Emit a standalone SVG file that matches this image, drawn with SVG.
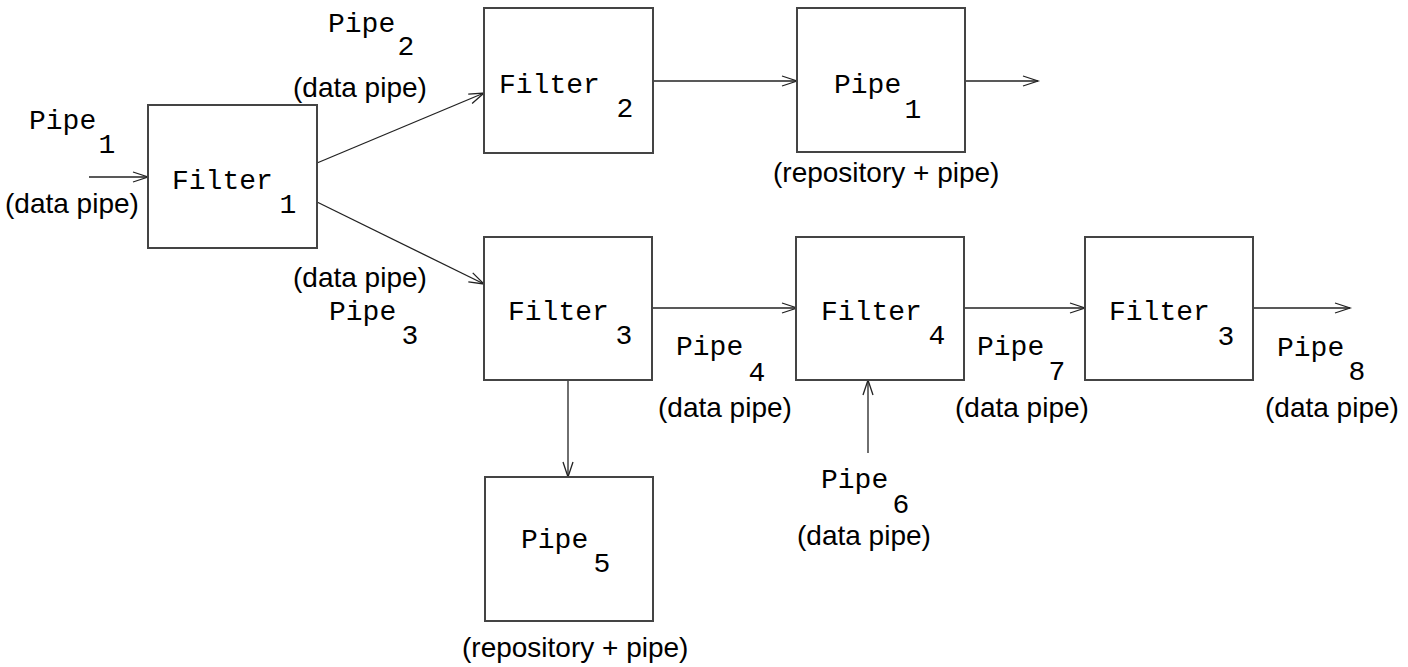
<svg xmlns="http://www.w3.org/2000/svg" width="1408" height="667" viewBox="0 0 1408 667">
<style>
.box{fill:#fff;stroke:#444;stroke-width:2}
.m{font-family:"Liberation Mono","DejaVu Sans Mono",monospace;font-size:28px;fill:#000}
.s{font-family:"Liberation Sans",Arial,sans-serif;font-size:28px;fill:#000}
.c{text-anchor:middle}
.con line{stroke:#222;stroke-width:1.3;marker-end:url(#a)}
</style>
<defs>
<marker id="a" markerUnits="userSpaceOnUse" markerWidth="20" markerHeight="14" refX="16" refY="7" orient="auto" viewBox="0 0 20 14">
<path d="M1,2 L16,7 L1,12" fill="none" stroke="#222" stroke-width="1.3"/>
</marker>
</defs>
<rect width="1408" height="667" fill="#fff"/>
<g id="connectors" class="con">
<line x1="89" y1="177" x2="148" y2="177"/>
<line x1="317" y1="163" x2="484" y2="93"/>
<line x1="317" y1="202" x2="484" y2="284"/>
<line x1="653" y1="81" x2="797" y2="81"/>
<line x1="965" y1="81" x2="1038" y2="81"/>
<line x1="653" y1="308" x2="797" y2="308"/>
<line x1="965" y1="308" x2="1085" y2="308"/>
<line x1="1253" y1="308" x2="1350" y2="308"/>
<line x1="568" y1="380" x2="568" y2="477"/>
<line x1="868" y1="453" x2="868" y2="380"/>
</g>
<g id="filter1">
<rect class="box" x="148" y="105" width="169" height="143"/>
<text class="m" x="172" y="189">Filter</text>
<text class="m c" x="288" y="213">1</text>
</g>
<g id="filter2">
<rect class="box" x="484" y="8" width="169" height="145"/>
<text class="m" x="499" y="93">Filter</text>
<text class="m c" x="625" y="117">2</text>
</g>
<g id="pipe1box">
<rect class="box" x="797" y="8" width="168" height="144"/>
<text class="m" x="834" y="93">Pipe</text>
<text class="m c" x="913" y="118">1</text>
<text class="s" x="773" y="182">(repository + pipe)</text>
</g>
<g id="filter3">
<rect class="box" x="484" y="237" width="168" height="143"/>
<text class="m" x="508" y="320">Filter</text>
<text class="m c" x="624" y="344">3</text>
</g>
<g id="filter4">
<rect class="box" x="796" y="237" width="168" height="143"/>
<text class="m" x="821" y="320">Filter</text>
<text class="m c" x="937" y="344">4</text>
</g>
<g id="filter3b">
<rect class="box" x="1085" y="237" width="168" height="143"/>
<text class="m" x="1109" y="320">Filter</text>
<text class="m c" x="1226" y="345">3</text>
</g>
<g id="pipe5">
<rect class="box" x="485" y="477" width="168" height="144"/>
<text class="m" x="521" y="548">Pipe</text>
<text class="m c" x="602" y="572">5</text>
<text class="s" x="462" y="657">(repository + pipe)</text>
</g>
<g id="labels">
<text class="m" x="29" y="129">Pipe</text>
<text class="m c" x="107" y="153">1</text>
<text class="s" x="5" y="213">(data pipe)</text>
<text class="m" x="328" y="32">Pipe</text>
<text class="m c" x="406" y="55">2</text>
<text class="s" x="293" y="97">(data pipe)</text>
<text class="s" x="293" y="287">(data pipe)</text>
<text class="m" x="329" y="320">Pipe</text>
<text class="m c" x="410" y="344">3</text>
<text class="m" x="676" y="355">Pipe</text>
<text class="m c" x="757" y="381">4</text>
<text class="s" x="658" y="417">(data pipe)</text>
<text class="m" x="977" y="355">Pipe</text>
<text class="m c" x="1057" y="380">7</text>
<text class="s" x="955" y="417">(data pipe)</text>
<text class="m" x="1277" y="356">Pipe</text>
<text class="m c" x="1357" y="380">8</text>
<text class="s" x="1265" y="417">(data pipe)</text>
<text class="m" x="821" y="488">Pipe</text>
<text class="m c" x="901" y="513">6</text>
<text class="s" x="797" y="545">(data pipe)</text>
</g>
</svg>
